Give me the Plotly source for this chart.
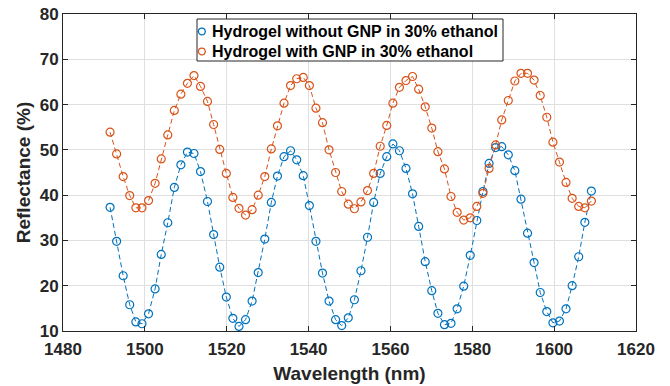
import plotly.graph_objects as go

wavelength = [1491.5, 1493.1, 1494.7, 1496.3, 1497.8, 1499.3, 1500.9, 1502.5, 1504.0, 1505.6,
              1507.2, 1508.8, 1510.4, 1512.0, 1513.6, 1515.3, 1516.8, 1518.3, 1519.9, 1521.5,
              1523.0, 1524.6, 1526.2, 1527.7, 1529.3, 1530.9, 1532.4, 1534.0, 1535.6, 1537.1,
              1538.7, 1540.2, 1541.8, 1543.4, 1545.0, 1546.6, 1548.1, 1549.7, 1551.2, 1552.8,
              1554.4, 1555.9, 1557.5, 1559.1, 1560.6, 1562.2, 1563.8, 1565.4, 1566.9, 1568.5,
              1570.1, 1571.6, 1573.2, 1574.8, 1576.3, 1577.9, 1579.5, 1581.1, 1582.6, 1584.1,
              1585.7, 1587.2, 1588.8, 1590.4, 1591.9, 1593.5, 1595.1, 1596.6, 1598.2, 1599.7,
              1601.3, 1602.9, 1604.4, 1606.0, 1607.5, 1609.1]

without_gnp = [37.3, 29.8, 22.2, 15.8, 12.0, 11.6, 13.8, 19.3, 26.9, 33.9,
               41.7, 46.7, 49.5, 49.2, 45.2, 38.6, 31.3, 24.1, 17.5, 12.8,
               11.0, 12.5, 16.6, 22.9, 30.3, 38.4, 44.2, 48.5, 49.8, 47.8,
               44.3, 37.7, 29.8, 22.8, 16.6, 12.5, 11.2, 12.9, 16.9, 23.3,
               30.7, 38.4, 44.8, 48.5, 51.3, 49.8, 45.9, 40.3, 33.1, 25.3,
               18.9, 13.9, 11.4, 11.7, 14.9, 19.9, 26.7, 34.4, 40.8, 47.0,
               50.5, 50.7, 48.9, 45.4, 39.1, 31.6, 25.1, 18.5, 14.3, 11.8,
               12.2, 14.9, 20.0, 26.4, 34.0, 40.9]

with_gnp = [53.9, 49.1, 44.1, 39.9, 37.2, 37.2, 38.8, 42.6, 48.0, 53.3,
            58.7, 62.3, 64.7, 66.4, 64.0, 60.7, 55.6, 50.1, 44.8, 39.5,
            37.1, 35.6, 36.8, 40.0, 44.1, 50.2, 55.3, 60.3, 64.2, 65.7,
            66.0, 64.2, 59.2, 56.0, 50.0, 45.0, 40.8, 38.0, 37.0, 38.5,
            41.0, 44.8, 50.8, 55.4, 60.3, 63.8, 65.3, 66.2, 63.4, 59.5,
            54.8, 49.6, 45.8, 39.7, 36.2, 34.5, 35.0, 37.5, 40.4, 45.9,
            51.1, 56.6, 60.9, 65.2, 66.9, 66.9, 65.4, 62.0, 57.2, 51.7,
            47.3, 42.8, 39.3, 37.5, 37.2, 38.7]

names = ["Hydrogel without GNP in 30% ethanol", "Hydrogel with GNP in 30% ethanol"]
colors = ["#0072BD", "#D95319"]

x_ticks = [1480, 1500, 1520, 1540, 1560, 1580, 1600, 1620]
y_ticks = [10, 20, 30, 40, 50, 60, 70, 80]

FONT = "Liberation Sans, Arial, Helvetica, sans-serif"
TXT = "#262626"

W, H = 670, 386
ML, MR, MT, MB = 63, 34, 14, 55
PW, PH = W - ML - MR, H - MT - MB


def px(x):
    return (x - ML) / PW


def py(y):
    return (H - MB - y) / PH


fig = go.Figure()
for ys, name, col in zip([without_gnp, with_gnp], names, colors):
    fig.add_trace(go.Scatter(
        x=wavelength, y=ys, name=name, mode="lines+markers",
        line=dict(color=col, width=1, dash="5px,3px"),
        marker=dict(symbol="circle-open", size=8, color=col, line=dict(width=1.2, color=col)),
        showlegend=False,
    ))

axis_common = dict(
    showline=True, linecolor=TXT, linewidth=1, mirror="ticks",
    ticks="inside", ticklen=5, tickwidth=1, tickcolor=TXT,
    showgrid=True, gridcolor="#DFDFDF", gridwidth=1, zeroline=False,
    automargin=False,
    tickfont=dict(family=FONT, size=17, color=TXT, weight="bold"),
)

fig.update_xaxes(range=[1480, 1620], tickvals=x_ticks, ticktext=[str(v) for v in x_ticks],
                 ticklabelstandoff=3,
                 title=dict(text="<b>Wavelength (nm)</b>", font=dict(family=FONT, size=19, color=TXT), standoff=8),
                 **axis_common)
fig.update_yaxes(range=[10, 80], tickvals=y_ticks, ticktext=[str(v) for v in y_ticks],
                 title=dict(text="<b>Reflectance (%)</b>", font=dict(family=FONT, size=19, color=TXT), standoff=4),
                 **axis_common)

# custom legend (MATLAB style box)
box_l, box_r, box_t, box_b = 197, 503, 19, 61
shapes = [dict(type="rect", xref="paper", yref="paper", x0=px(box_l), x1=px(box_r),
               y0=py(box_b), y1=py(box_t), fillcolor="white", line=dict(color=TXT, width=1),
               layer="above")]
annotations = []
rows_y = [31.5, 51.5]
for ry, name, col in zip(rows_y, names, colors):
    shapes.append(dict(type="line", xref="paper", yref="paper", x0=px(197.5), x1=px(206),
                       y0=py(ry), y1=py(ry), line=dict(color=col, width=1), layer="above"))
    r = 3.4
    shapes.append(dict(type="circle", xref="paper", yref="paper",
                       x0=px(201.8 - r), x1=px(201.8 + r), y0=py(ry + r), y1=py(ry - r),
                       fillcolor="white", line=dict(color=col, width=1.2), layer="above"))
    annotations.append(dict(text="<b>" + name + "</b>", xref="paper", yref="paper",
                            x=px(209.5), y=py(ry), xanchor="left", yanchor="middle",
                            showarrow=False, font=dict(family=FONT, size=16, color="black")))

fig.update_layout(
    width=W, height=H,
    margin=dict(l=ML, r=MR, t=MT, b=MB),
    paper_bgcolor="white", plot_bgcolor="white",
    font=dict(family=FONT, color=TXT),
    shapes=shapes, annotations=annotations,
    showlegend=False,
)

fig.write_html("out.html")
